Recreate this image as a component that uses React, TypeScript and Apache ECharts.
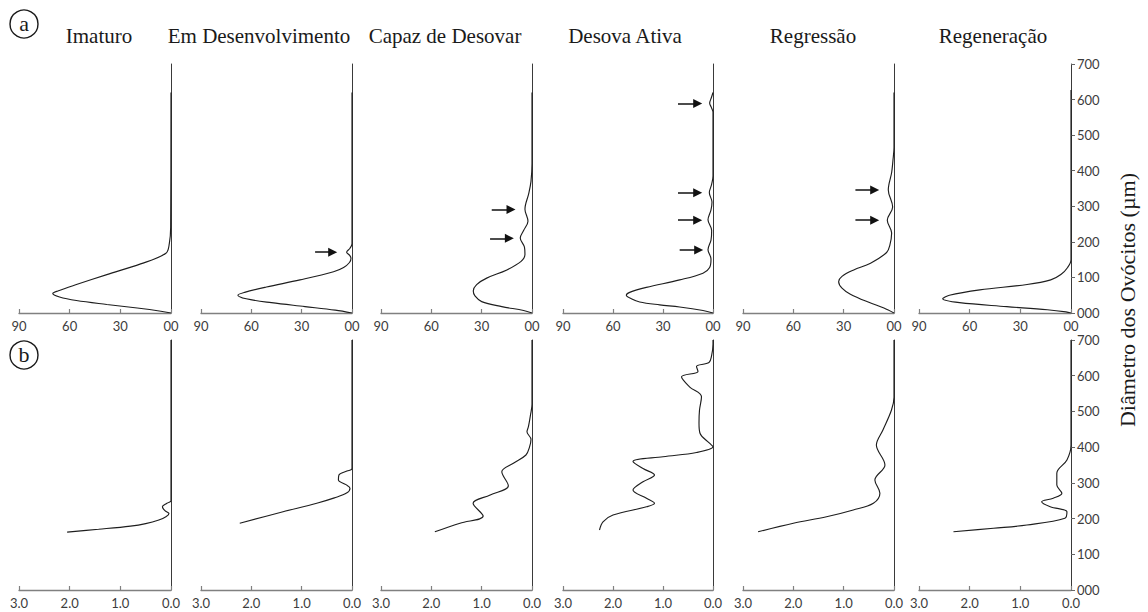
import React, { useEffect, useRef } from 'react';
import * as echarts from 'echarts';

// ---- Data ----
const stages = ['Imaturo', 'Em Desenvolvimento', 'Capaz de Desovar', 'Desova Ativa', 'Regressão', 'Regeneração'];
const yAxisTitle = 'Diâmetro dos Ovócitos (µm)';
const panelTags = ['a', 'b'];

// row a: [frequency (%), diameter (µm)]
const topImaturo = [[0,620],[0.2,240],[1,195],[3,168],[18,138],[38,108],[56,80],[67,62],[70,55],[66,45],[56,35],[38,24],[20,14],[6,5],[0,0]];
const topEmDesenv = [[0,620],[0,195],[1.2,182],[3.2,171],[1.4,162],[0.6,154],[1.5,142],[5,128],[11,116],[31,93],[51,73],[64,58],[68,50],[63,40],[48,29],[28,18],[10,8],[0,0]];
const topCapaz = [[0,620],[0,420],[0.6,370],[2,335],[4.2,292],[2.4,258],[5,232],[7,211],[4.5,185],[4.2,165],[6.5,145],[15,121],[27,98],[33,80],[35,62],[34,48],[30,32],[18,18],[5,7],[0,0]];
const topDesova = [[0,620],[1,605],[2,590],[1,578],[0,565],[0,385],[0.8,362],[2.2,338],[0.6,312],[1.2,290],[3,262],[0.8,232],[1.2,205],[3,178],[1.2,152],[2,128],[6,112],[20,93],[40,72],[50,58],[52,50],[49,40],[44,31],[32,23],[20,17],[6,7],[0,0]];
const topRegressao = [[0,620],[0,465],[0.6,430],[1.4,395],[3.4,346],[0.8,298],[4,261],[1.4,225],[2.5,190],[4.4,170],[14,140],[24,121],[31,103],[33,88],[31,70],[26,53],[15,30],[6,14],[0,0]];
const topRegeneracao = [[0,627],[0,150],[2,128],[6,108],[12,93],[26,80],[54,65],[72,50],[76,40],[66,29],[38,18],[14,9],[3,3],[0,0]];

// row b: [value, diameter (µm)]
const botImaturo = [[0,700],[0,250],[0.08,243],[0.17,233],[0.12,222],[0.04,214],[0.1,205],[0.24,196],[0.5,186],[0.8,179],[1.43,170],[2.05,162]];
const botEmDesenv = [[0,700],[0,340],[0.1,333],[0.26,322],[0.27,308],[0.12,295],[0.04,285],[0.1,272],[0.35,258],[0.7,243],[1.37,219],[2.23,187]];
const botCapaz = [[0,700],[0,520],[0.03,490],[0.07,458],[0.1,443],[0.02,422],[0.05,400],[0.12,378],[0.37,355],[0.6,331],[0.47,292],[0.83,266],[1.17,243],[0.97,207],[1.43,187],[1.93,163]];
const botDesova = [[0,700],[0,688],[0.03,655],[0.08,637],[0.33,626],[0.3,612],[0.63,597],[0.47,569],[0.23,541],[0.27,504],[0.28,467],[0.26,439],[0.07,411],[0,401],[0.33,385],[1.0,373],[1.6,360],[1.4,340],[1.17,322],[1.4,303],[1.6,280],[1.33,257],[1.17,243],[1.33,233],[2.0,210],[2.2,191],[2.27,168]];
const botRegressao = [[0,700],[0,540],[0.05,504],[0.22,448],[0.35,406],[0.18,350],[0.38,308],[0.28,271],[0.41,243],[0.81,224],[1.34,205],[2.0,187],[2.7,163]];
const botRegeneracao = [[0,700],[0,405],[0.08,364],[0.28,327],[0.28,294],[0.18,271],[0.35,257],[0.58,247],[0.41,233],[0.08,219],[0.12,201],[0.87,182],[1.53,173],[2.32,163]];

// arrows (row a): panel index, diameter, start value, end value
const arrowsA = [
  { panel: 1, y: 171, from: 22, to: 11.5 },
  { panel: 2, y: 291, from: 24, to: 12.5 },
  { panel: 2, y: 210, from: 25, to: 13.5 },
  { panel: 3, y: 589, from: 21, to: 9.2 },
  { panel: 3, y: 338, from: 21, to: 9.2 },
  { panel: 3, y: 261, from: 21, to: 9.2 },
  { panel: 3, y: 177, from: 20, to: 8.6 },
  { panel: 4, y: 346, from: 23, to: 11.5 },
  { panel: 4, y: 261, from: 23, to: 11.5 },
];

const topSeries = [topImaturo, topEmDesenv, topCapaz, topDesova, topRegressao, topRegeneracao];
const botSeries = [botImaturo, botEmDesenv, botCapaz, botDesova, botRegressao, botRegeneracao];

const topXMax = 90;
const topXInterval = 30;
const botXMax = 3;
const botXInterval = 1;
const yMax = 700;
const yInterval = 100;

// ---- Layout ----
const panelLeft = [19, 201, 381, 563, 743, 919];
const panelRight = [171, 352, 532, 713, 894, 1071];
const rowTop = [64, 340];
const rowBottom = [313, 590];
const titleCenters = [99, 259, 445, 625, 813, 993];

const labelFont = 'Lato, "Open Sans", sans-serif';
const serifFont = '"Liberation Serif", "Times New Roman", serif';

function buildOption() {
  const grid: any[] = [];
  const xAxis: any[] = [];
  const yAxis: any[] = [];
  const series: any[] = [];

  for (let r = 0; r < 2; r++) {
    for (let c = 0; c < 6; c++) {
      const idx = r * 6 + c;
      grid.push({
        left: panelLeft[c],
        top: rowTop[r],
        width: panelRight[c] - panelLeft[c],
        height: rowBottom[r] - rowTop[r],
        containLabel: false,
      });
      xAxis.push({
        gridIndex: idx,
        type: 'value',
        inverse: true,
        min: 0,
        max: r === 0 ? topXMax : botXMax,
        interval: r === 0 ? topXInterval : botXInterval,
        axisLine: { show: true, onZero: false, lineStyle: { color: '#808080', width: 1.3 } },
        axisTick: { show: true, inside: true, length: 4, lineStyle: { color: '#808080', width: 1.2 } },
        axisLabel: {
          show: true,
          color: '#3c3c3c',
          fontSize: 13,
          fontFamily: labelFont,
          margin: 6,
          formatter: (v: number) => (r === 0 ? (v === 0 ? '00' : String(v)) : v.toFixed(1)),
        },
        splitLine: { show: false },
      });
      const last = c === 5;
      yAxis.push({
        gridIndex: idx,
        type: 'value',
        position: 'right',
        min: 0,
        max: yMax,
        interval: yInterval,
        axisLine: { show: true, onZero: false, lineStyle: { color: '#3a3a3a', width: 1 } },
        axisTick: { show: last, inside: false, length: 4, lineStyle: { color: '#666', width: 1 } },
        axisLabel: {
          show: last,
          color: '#3c3c3c',
          fontSize: 13,
          fontFamily: labelFont,
          margin: 6,
          formatter: (v: number) => String(v).padStart(3, '0'),
        },
        splitLine: { show: false },
      });
      const data = r === 0 ? topSeries[c] : botSeries[c];
      const s: any = {
        type: 'line',
        xAxisIndex: idx,
        yAxisIndex: idx,
        data,
        showSymbol: false,
        symbol: 'none',
        smooth: 0.35,
        lineStyle: { color: '#1e1e1e', width: 1.15 },
        silent: true,
      };
      if (r === 0) {
        const arr = arrowsA.filter((a) => a.panel === c);
        if (arr.length) {
          s.markLine = {
            silent: true,
            symbol: ['none', 'triangle'],
            symbolSize: 9,
            label: { show: false },
            lineStyle: { color: '#111', width: 1.5, type: 'solid' },
            data: arr.map((a) => [{ coord: [a.from, a.y] }, { coord: [a.to, a.y] }]),
          };
        }
      }
      series.push(s);
    }
  }

  const graphic: any[] = [];
  stages.forEach((t, i) => {
    graphic.push({
      type: 'text',
      x: titleCenters[i],
      y: 36,
      style: { text: t, fontSize: 21, fontFamily: serifFont, fill: '#1a1a1a', align: 'center', verticalAlign: 'middle' },
    });
  });
  const tagPos = [[24, 24], [24, 355]];
  panelTags.forEach((t, i) => {
    graphic.push({
      type: 'circle',
      shape: { cx: tagPos[i][0], cy: tagPos[i][1], r: 14 },
      style: { fill: 'none', stroke: '#1a1a1a', lineWidth: 1.4 },
    });
    graphic.push({
      type: 'text',
      x: tagPos[i][0],
      y: tagPos[i][1] - 1,
      style: { text: t, fontSize: 22, fontFamily: serifFont, fill: '#1a1a1a', align: 'center', verticalAlign: 'middle' },
    });
  });
  graphic.push({
    type: 'text',
    x: 1127,
    y: 300,
    rotation: Math.PI / 2,
    style: { text: yAxisTitle, fontSize: 22, fontFamily: serifFont, fill: '#1a1a1a', align: 'center', verticalAlign: 'middle' },
  });

  return {
    animation: false,
    backgroundColor: '#ffffff',
    grid,
    xAxis,
    yAxis,
    series,
    graphic,
  };
}

export default function App() {
  const ref = useRef<HTMLDivElement>(null);
  useEffect(() => {
    if (!ref.current) return;
    const chart = echarts.init(ref.current, undefined, { renderer: 'svg' });
    chart.setOption(buildOption());
    return () => chart.dispose();
  }, []);
  return (
    <div
      ref={ref}
      style={{ position: 'fixed', left: 0, top: 0, width: 1148, height: 612, background: '#fff' }}
    />
  );
}
